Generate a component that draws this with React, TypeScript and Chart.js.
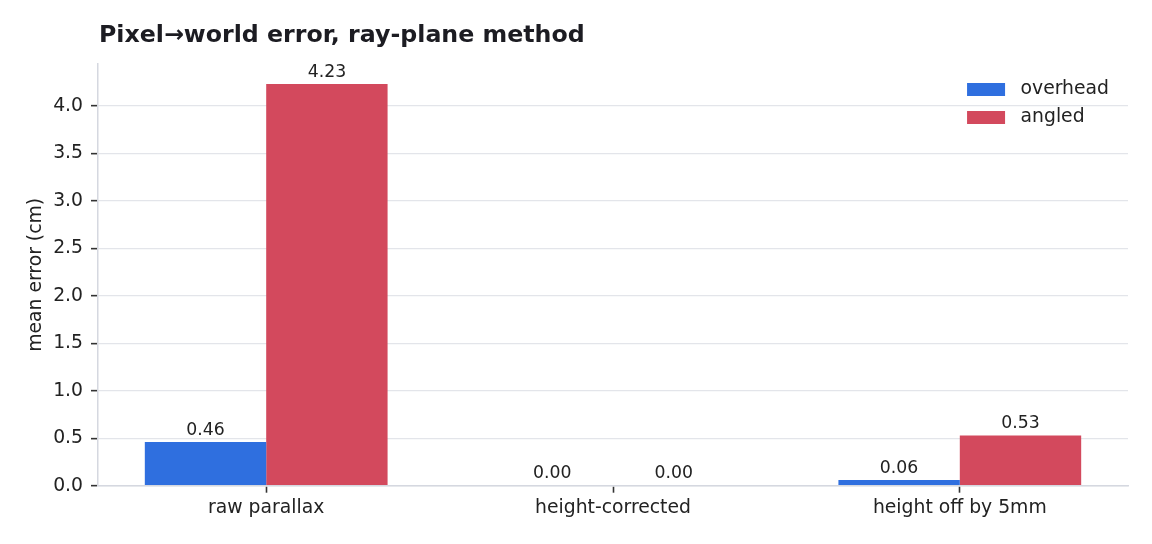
import React, { useEffect, useRef } from "react";
import { Chart, registerables } from "chart.js";

Chart.register(...registerables);

const titleText = "Pixel→world error, ray-plane method";
const yAxisLabel = "mean error (cm)";
const categories = ["raw parallax", "height-corrected", "height off by 5mm"];
const seriesNames = ["overhead", "angled"];
const overhead = [0.46, 0.0, 0.06];
const angled = [4.23, 0.0, 0.53];
const yTicks = [0, 0.5, 1.0, 1.5, 2.0, 2.5, 3.0, 3.5, 4.0];
const seriesColors = ["#2f6fdf", "#d3495d"];

const FONT = "'DejaVu Sans', sans-serif";
const TEXT = "#222222";

const overlayPlugin = {
  id: "overlay",
  afterDraw(chart: any) {
    const { ctx, chartArea } = chart;
    ctx.save();
    // title
    ctx.fillStyle = "#1c1c22";
    ctx.font = `bold 23.7px ${FONT}`;
    ctx.textAlign = "left";
    ctx.textBaseline = "alphabetic";
    ctx.fillText(titleText, chartArea.left + 1, 42);

    // value labels
    ctx.font = `17.3px ${FONT}`;
    ctx.fillStyle = TEXT;
    ctx.textAlign = "center";
    chart.data.datasets.forEach((ds: any, di: number) => {
      const meta = chart.getDatasetMeta(di);
      meta.data.forEach((bar: any, i: number) => {
        const v = ds.data[i].y;
        ctx.fillText(v.toFixed(2), bar.x, bar.y - 7.5);
      });
    });

    // legend
    ctx.font = `18.8px ${FONT}`;
    ctx.textAlign = "left";
    ctx.textBaseline = "middle";
    const widths = chart.data.datasets.map((d: any) => ctx.measureText(d.label).width);
    const maxW = Math.max(...widths);
    const textX = chartArea.right - 19 - maxW;
    const boxX = textX - 15.5 - 38;
    chart.data.datasets.forEach((ds: any, di: number) => {
      const cy = chartArea.top + 25.5 + di * 28;
      ctx.fillStyle = ds.backgroundColor;
      ctx.fillRect(boxX, cy - 6.5, 38, 13);
      ctx.fillStyle = TEXT;
      ctx.fillText(ds.label, textX, cy);
    });
    ctx.restore();
  },
};

export default function App() {
  const ref = useRef<HTMLCanvasElement | null>(null);

  useEffect(() => {
    if (!ref.current) return;
    const mk = (vals: number[]) => vals.map((v, i) => ({ x: i, y: v }));
    const chart = new Chart(ref.current, {
      type: "bar",
      data: {
        datasets: [
          {
            label: seriesNames[0],
            data: mk(overhead),
            backgroundColor: seriesColors[0],
            borderWidth: 0,
            categoryPercentage: 0.7,
            barPercentage: 1.0,
          },
          {
            label: seriesNames[1],
            data: mk(angled),
            backgroundColor: seriesColors[1],
            borderWidth: 0,
            categoryPercentage: 0.7,
            barPercentage: 1.0,
          },
        ],
      } as any,
      options: {
        animation: false,
        responsive: false,
        maintainAspectRatio: false,
        layout: { padding: { top: 64, right: 24, left: 0, bottom: 0 } },
        plugins: {
          legend: { display: false },
          title: { display: false },
          tooltip: { enabled: false },
        },
        scales: {
          x: {
            type: "linear",
            min: -0.485,
            max: 2.485,
            offset: false,
            afterBuildTicks: (scale: any) => {
              scale.ticks = categories.map((_, i) => ({ value: i }));
            },
            afterFit: (scale: any) => {
              scale.height = 58.3;
            },
            ticks: {
              callback: (v: any) => categories[Math.round(Number(v))],
              font: { family: FONT, size: 18.8 },
              color: TEXT,
              padding: 4,
              maxRotation: 0,
              autoSkip: false,
            },
            grid: {
              offset: false,
              drawOnChartArea: false,
              drawTicks: true,
              tickLength: 7,
              tickColor: "#333333",
              tickWidth: 1.6,
            },
            border: { color: "#d5d8e0", width: 1.5 },
          },
          y: {
            type: "linear",
            min: 0,
            max: 4.4415,
            afterBuildTicks: (scale: any) => {
              scale.ticks = yTicks.map((v) => ({ value: v }));
            },
            afterFit: (scale: any) => {
              scale.width = 98;
            },
            ticks: {
              callback: (v: any) => Number(v).toFixed(1),
              font: { family: FONT, size: 18.8 },
              color: TEXT,
              padding: 8,
            },
            grid: {
              color: "#e3e5ea",
              lineWidth: 1.3,
              drawTicks: true,
              tickLength: 7,
              tickColor: "#333333",
              tickWidth: 1.6,
            },
            border: { color: "#d5d8e0", width: 1.5 },
            title: {
              display: true,
              text: yAxisLabel,
              font: { family: FONT, size: 18.8 },
              color: TEXT,
              padding: { top: 25, bottom: 0 },
            },
          },
        },
      } as any,
      plugins: [overlayPlugin],
    });
    return () => chart.destroy();
  }, []);

  return (
    <div style={{ position: "fixed", left: 0, top: 0, width: 1152, height: 544, background: "#ffffff" }}>
      <canvas ref={ref} width={1152} height={544} style={{ width: 1152, height: 544, display: "block" }} />
    </div>
  );
}
